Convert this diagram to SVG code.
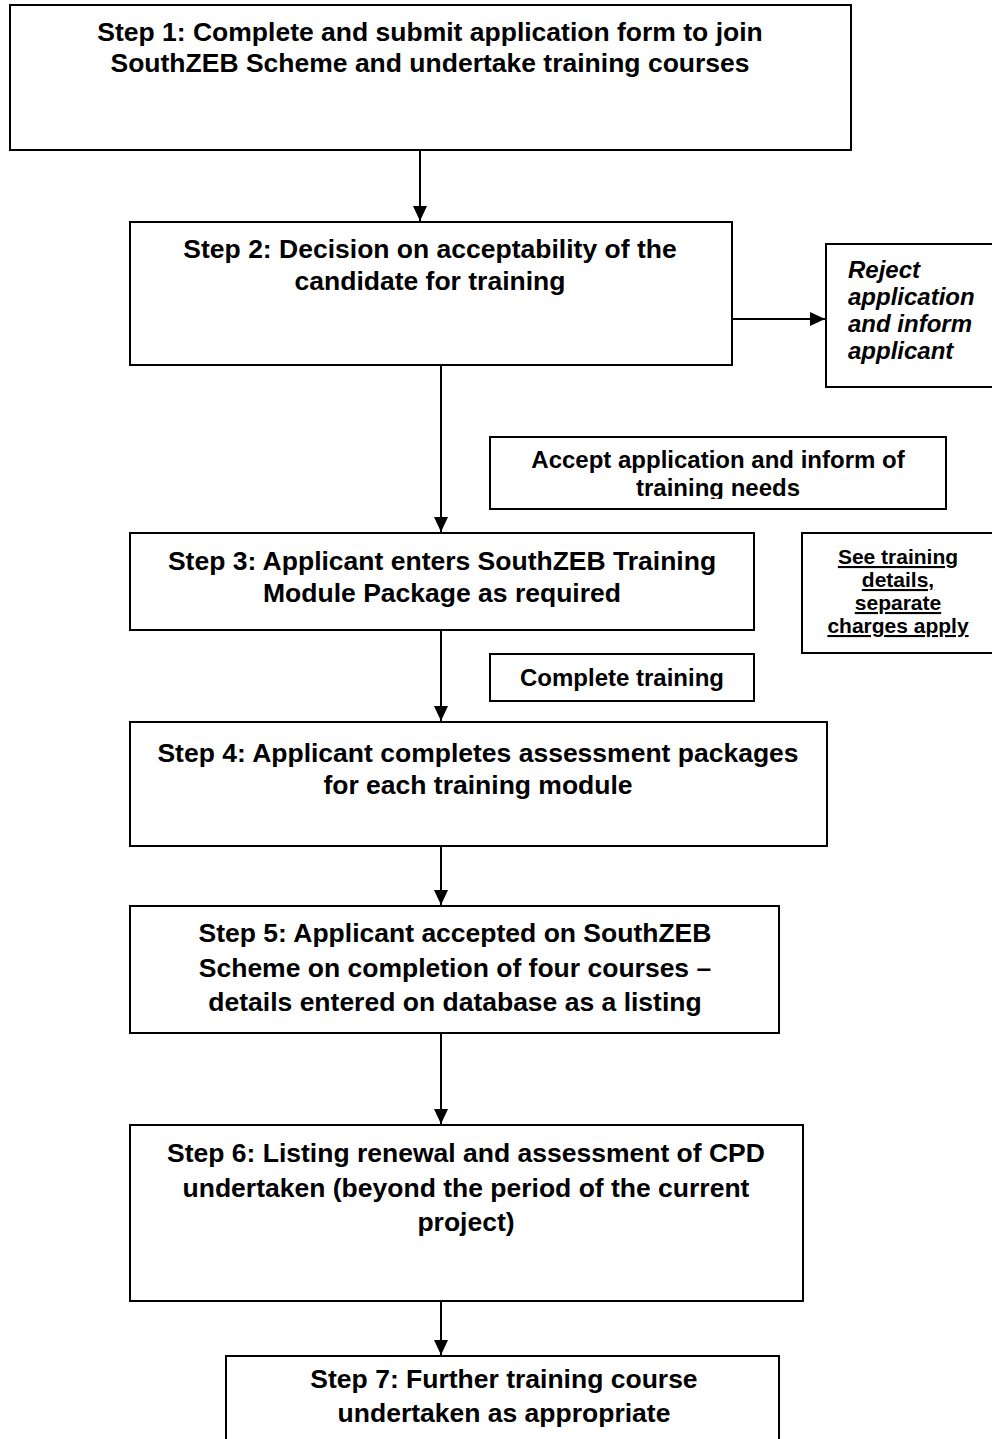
<svg xmlns="http://www.w3.org/2000/svg" width="992" height="1439" viewBox="0 0 992 1439">
<style>
.box{fill:#fff;stroke:#000;stroke-width:2}
.t{font-family:"Liberation Sans",Arial,sans-serif;font-weight:bold;font-size:26.5px;fill:#000;text-anchor:middle}
.s{font-size:24px}
.i{font-style:italic;text-anchor:start}
.u{font-size:21px;text-decoration:underline}
.c{stroke:#000;stroke-width:2;fill:none}
</style>
<defs>
<marker id="ah" markerWidth="14" markerHeight="16" refX="15" refY="7" orient="auto" markerUnits="userSpaceOnUse">
<path d="M0,0 L15,7 L0,14 Z" fill="#000"/>
</marker>
<clipPath id="clipAccept"><rect x="490" y="437" width="456" height="62"/></clipPath>
</defs>
<rect width="992" height="1439" fill="#fff"/>
<g id="connectors">
<line class="c" x1="420" y1="150" x2="420" y2="221" marker-end="url(#ah)"/>
<line class="c" x1="732" y1="319" x2="825" y2="319" marker-end="url(#ah)"/>
<line class="c" x1="441" y1="365" x2="441" y2="532" marker-end="url(#ah)"/>
<line class="c" x1="441" y1="630" x2="441" y2="721" marker-end="url(#ah)"/>
<line class="c" x1="441" y1="846" x2="441" y2="905" marker-end="url(#ah)"/>
<line class="c" x1="441" y1="1033" x2="441" y2="1124" marker-end="url(#ah)"/>
<line class="c" x1="441" y1="1301" x2="441" y2="1355" marker-end="url(#ah)"/>
</g>
<g id="step1">
<rect class="box" x="10" y="5" width="841" height="145"/>
<text class="t" x="430" y="41">Step 1: Complete and submit application form to join</text>
<text class="t" x="430" y="72">SouthZEB Scheme and undertake training courses</text>
</g>
<g id="step2">
<rect class="box" x="130" y="222" width="602" height="143"/>
<text class="t" x="430" y="258">Step 2: Decision on acceptability of the</text>
<text class="t" x="430" y="290">candidate for training</text>
</g>
<g id="reject">
<rect class="box" x="826" y="244" width="170" height="143"/>
<text class="t s i" x="848" y="278">Reject</text>
<text class="t s i" x="848" y="305">application</text>
<text class="t s i" x="848" y="332">and inform</text>
<text class="t s i" x="848" y="359">applicant</text>
</g>
<g id="accept">
<rect class="box" x="490" y="437" width="456" height="72"/>
<g clip-path="url(#clipAccept)">
<text class="t s" x="718" y="468">Accept application and inform of</text>
<text class="t s" x="718" y="496">training needs</text>
</g>
</g>
<g id="step3">
<rect class="box" x="130" y="533" width="624" height="97"/>
<text class="t" x="442" y="570">Step 3: Applicant enters SouthZEB Training</text>
<text class="t" x="442" y="602">Module Package as required</text>
</g>
<g id="seetraining">
<rect class="box" x="802" y="533" width="192" height="120"/>
<text class="t u" x="898" y="564">See training</text>
<text class="t u" x="898" y="587">details,</text>
<text class="t u" x="898" y="610">separate</text>
<text class="t u" x="898" y="633">charges apply</text>
</g>
<g id="completetraining">
<rect class="box" x="490" y="654" width="264" height="47"/>
<text class="t s" x="622" y="686">Complete training</text>
</g>
<g id="step4">
<rect class="box" x="130" y="722" width="697" height="124"/>
<text class="t" x="478" y="762">Step 4: Applicant completes assessment packages</text>
<text class="t" x="478" y="794">for each training module</text>
</g>
<g id="step5">
<rect class="box" x="130" y="906" width="649" height="127"/>
<text class="t" x="455" y="942">Step 5: Applicant accepted on SouthZEB</text>
<text class="t" x="455" y="977">Scheme on completion of four courses –</text>
<text class="t" x="455" y="1011">details entered on database as a listing</text>
</g>
<g id="step6">
<rect class="box" x="130" y="1125" width="673" height="176"/>
<text class="t" x="466" y="1162">Step 6: Listing renewal and assessment of CPD</text>
<text class="t" x="466" y="1197">undertaken (beyond the period of the current</text>
<text class="t" x="466" y="1231">project)</text>
</g>
<g id="step7">
<rect class="box" x="226" y="1356" width="553" height="100"/>
<text class="t" x="504" y="1388">Step 7: Further training course</text>
<text class="t" x="504" y="1422">undertaken as appropriate</text>
</g>
</svg>
